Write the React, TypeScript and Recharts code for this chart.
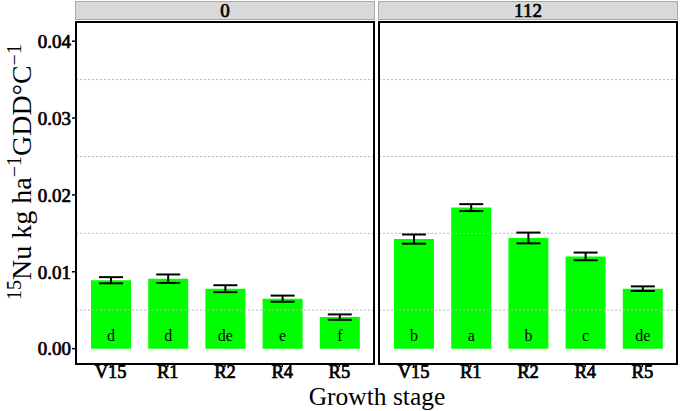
import React from "react";
import {
  BarChart,
  Bar,
  XAxis,
  YAxis,
  ErrorBar,
  LabelList,
  ReferenceLine,
} from "recharts";

const stages = ["V15", "R1", "R2", "R4", "R5"];
const nRates = ["0", "112"];
const uptake0 = [0.0089, 0.0091, 0.0078, 0.0065, 0.0041];
const se0 = [0.0004, 0.00055, 0.00045, 0.0004, 0.00035];
const letters0 = ["d", "d", "de", "e", "f"];
const uptake112 = [0.01425, 0.01835, 0.0144, 0.012, 0.0078];
const se112 = [0.0006, 0.00045, 0.0007, 0.0005, 0.0003];
const letters112 = ["b", "a", "b", "c", "de"];
const yTicks = [0, 0.01, 0.02, 0.03, 0.04];
const gridLines = [0.005, 0.015, 0.025, 0.035];

const serif = "Liberation Serif";
const Y_DOMAIN: [number, number] = [-0.002, 0.0425];

const build = (vals: number[], se: number[], letters: string[]) =>
  stages.map((s, i) => ({ stage: s, value: vals[i], se: se[i], letter: letters[i] }));

const LetterLabel = (props: any) => {
  const { x, y, width, height, value } = props;
  return (
    <text
      x={x + width / 2}
      y={y + height - 8}
      textAnchor="middle"
      fontFamily={serif}
      fontSize={16}
      fill="#000"
    >
      {value}
    </text>
  );
};

// no bold face for the serif here, so fake it with a thin stroke
const tickFont = {
  fontFamily: serif,
  fontSize: 19,
  fill: "#000",
  stroke: "#000",
  strokeWidth: 0.7,
};

function Panel({ data, showY, width, marginLeft, marginRight }: any) {
  return (
    <BarChart
      width={width}
      height={411}
      data={data}
      margin={{ top: 22, right: marginRight, bottom: 0, left: marginLeft }}
      barSize={40}
    >
      {gridLines.map((g) => (
        <ReferenceLine key={g} y={g} stroke="#b5b5b5" strokeDasharray="2 2" strokeWidth={1} />
      ))}
      <XAxis
        dataKey="stage"
        height={47}
        axisLine={false}
        tickLine={{ stroke: "#000", strokeWidth: 1.5 }}
        tickSize={3}
        tickMargin={-2}
        padding={{ left: 6, right: 6 }}
        tick={{ ...tickFont, fontSize: 18.5 }}
        interval={0}
      />
      <YAxis
        hide={!showY}
        width={showY ? 76 : 0}
        domain={Y_DOMAIN}
        ticks={yTicks}
        axisLine={false}
        tickLine={{ stroke: "#000", strokeWidth: 1.5 }}
        tickSize={4}
        tickMargin={1}
        tickFormatter={(v: number) => v.toFixed(2)}
        tick={tickFont}
        allowDataOverflow
      />
      <Bar dataKey="value" fill="#00ff00" isAnimationActive={false}>
        <ErrorBar dataKey="se" width={12} stroke="#000" strokeWidth={2} />
        <LabelList dataKey="letter" content={LetterLabel} />
      </Bar>
    </BarChart>
  );
}

const stripStyle: React.CSSProperties = {
  position: "absolute",
  top: 1,
  height: 19,
  background: "#d9d9d9",
  border: "1px solid #a8a8a8",
  boxSizing: "border-box",
  fontFamily: serif,
  fontSize: 19,
  lineHeight: "18px",
  textAlign: "center",
  color: "#000",
  WebkitTextStroke: "0.7px #000",
};

const borderStyle: React.CSSProperties = {
  position: "absolute",
  top: 21,
  height: 344,
  width: 300,
  border: "2px solid #000",
  boxSizing: "border-box",
  pointerEvents: "none",
};

export default function App() {
  return (
    <div
      style={{
        position: "absolute",
        left: 0,
        top: 0,
        width: 680,
        height: 411,
        background: "#fff",
        overflow: "hidden",
      }}
    >
      <div style={{ position: "absolute", left: 0, top: 0 }}>
        <Panel data={build(uptake0, se0, letters0)} showY width={376} marginLeft={0} marginRight={2} />
      </div>
      <div style={{ position: "absolute", left: 377, top: 0 }}>
        <Panel data={build(uptake112, se112, letters112)} showY={false} width={303} marginLeft={2} marginRight={3} />
      </div>
      <div style={{ ...stripStyle, left: 75, width: 300 }}>{nRates[0]}</div>
      <div style={{ ...stripStyle, left: 378, width: 300 }}>{nRates[1]}</div>
      <div style={{ ...borderStyle, left: 75 }} />
      <div style={{ ...borderStyle, left: 378 }} />
      <div
        style={{
          position: "absolute",
          left: 20,
          top: 172,
          transform: "translate(-50%, -50%) rotate(-90deg)",
          whiteSpace: "nowrap",
          fontFamily: serif,
          fontSize: 28,
          lineHeight: 1,
          color: "#000",
        }}
      >
        <sup style={{ fontSize: 20 }}>15</sup>Nu kg ha<sup style={{ fontSize: 20 }}>−1</sup>GDD°C
        <sup style={{ fontSize: 20 }}>−1</sup>
      </div>
      <div
        style={{
          position: "absolute",
          left: 377,
          top: 396.5,
          transform: "translate(-50%, -50%)",
          whiteSpace: "nowrap",
          fontFamily: serif,
          fontSize: 25.5,
          lineHeight: 1,
          color: "#000",
        }}
      >
        Growth stage
      </div>
    </div>
  );
}
